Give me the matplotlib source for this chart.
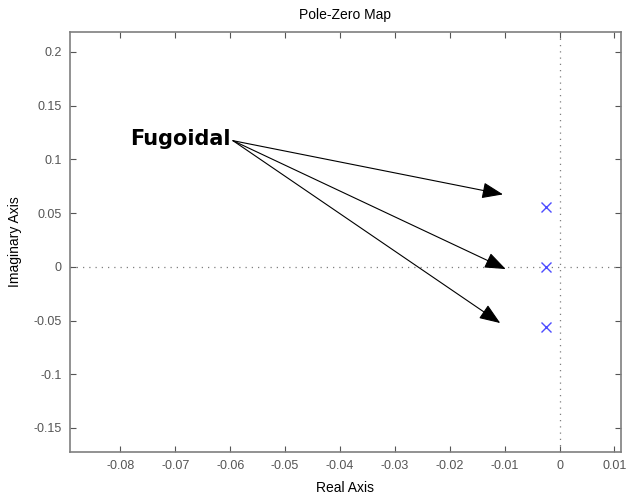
import matplotlib
matplotlib.use("Agg")
import matplotlib.pyplot as plt
from matplotlib.patches import FancyArrowPatch

# Data
pole_real = [-0.0024, -0.0024, -0.0024]
pole_imag = [0.0561, 0.0, -0.0561]
x_ticks = [-0.08, -0.07, -0.06, -0.05, -0.04, -0.03, -0.02, -0.01, 0, 0.01]
x_ticklabels = ["-0.08", "-0.07", "-0.06", "-0.05", "-0.04", "-0.03", "-0.02", "-0.01", "0", "0.01"]
y_ticks = [-0.15, -0.1, -0.05, 0, 0.05, 0.1, 0.15, 0.2]
y_ticklabels = ["-0.15", "-0.1", "-0.05", "0", "0.05", "0.1", "0.15", "0.2"]
annot_text = "Fugoidal"
annot_start = (-0.0595, 0.1174)
arrow_tips_x = [-0.0103, -0.0098, -0.0108]
arrow_tips_y = [0.0674, -0.0021, -0.0524]

fig = plt.figure(figsize=(6.26, 4.95), dpi=100)
ax = fig.add_axes([0.1118, 0.0869, 0.8802, 0.8485])
ax.set_xlim(-0.0892, 0.0112)
ax.set_ylim(-0.1724, 0.2186)

grey = "#7f7f7f"
ax.axhline(0, color=grey, linestyle=(0, (1, 4)), linewidth=0.9, zorder=1)
ax.axvline(0, color=grey, linestyle=(0, (1, 4)), linewidth=0.9, zorder=1)

ax.plot(pole_real, pole_imag, linestyle="none", marker="x", color="#4d4dff",
        markersize=7, markeredgewidth=1.0, zorder=3)

for tx, ty in zip(arrow_tips_x, arrow_tips_y):
    arr = FancyArrowPatch(annot_start, (tx, ty), arrowstyle="-|>,head_length=13,head_width=5",
                          mutation_scale=1, color="black", linewidth=0.8,
                          shrinkA=0, shrinkB=0, zorder=4)
    ax.add_patch(arr)

ax.text(-0.0783, 0.1134, annot_text, fontsize=15, fontweight="bold",
        family="DejaVu Sans", ha="left", va="baseline", color="black")

ax.set_xticks(x_ticks)
ax.set_xticklabels(x_ticklabels)
ax.set_yticks(y_ticks)
ax.set_yticklabels(y_ticklabels)
ax.tick_params(direction="in", top=True, right=True, length=4, width=0.8,
               colors="#555555", labelsize=9, pad=6)
for lab in ax.get_xticklabels() + ax.get_yticklabels():
    lab.set_family("Liberation Sans")
for sp in ax.spines.values():
    sp.set_color(grey)
    sp.set_linewidth(1.2)

ax.set_xlabel("Real Axis", fontsize=10, family="Liberation Sans", labelpad=6)
ax.set_ylabel("Imaginary Axis", fontsize=10, family="Liberation Sans", labelpad=8)
ax.set_title("Pole-Zero Map", fontsize=10, family="Liberation Sans", pad=9)

fig.savefig("out.png", dpi=100)
